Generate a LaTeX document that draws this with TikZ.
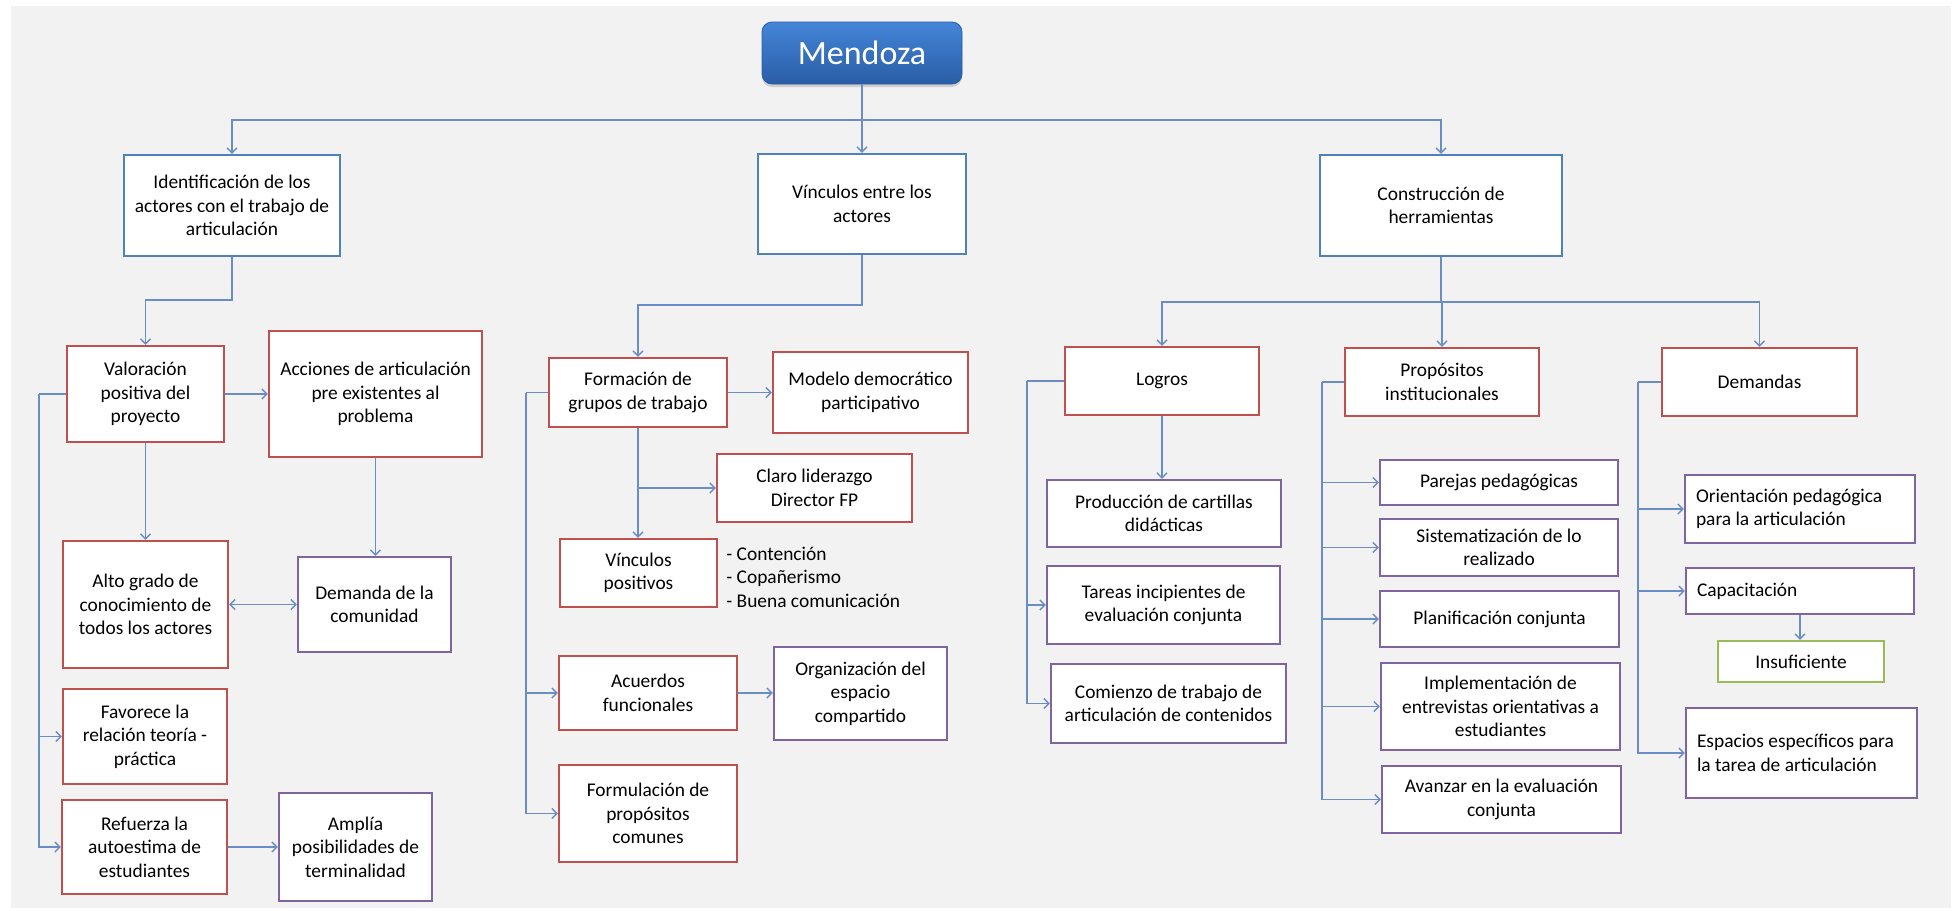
\documentclass[tikz,border=0pt]{standalone}
\usepackage{fontspec}
\setmainfont{Carlito}
\usetikzlibrary{arrows.meta,shadows}
\definecolor{bgc}{HTML}{F2F2F2}
\definecolor{cred}{HTML}{C0504D}
\definecolor{cpur}{HTML}{8064A2}
\definecolor{cblu}{HTML}{4F81BD}
\definecolor{cgrn}{HTML}{9BBB59}
\definecolor{cline}{HTML}{6A8DC6}
\definecolor{mtop}{HTML}{4585D8}
\definecolor{mbot}{HTML}{2A5DA6}
\newcommand\txtsz{\fontsize{9.7}{11.8}\selectfont}
\newcommand\bx[8][]{\pgfmathsetmacro\bw{(#6-#4)*0.5}\pgfmathsetmacro\bh{(#7-#5)*0.5}%
  \node[#3,minimum width=\bw pt,minimum height=\bh pt,#1] (#2) at ({(#4+#6)/2},{(#5+#7)/2}) {#8};}
\begin{document}
\begin{tikzpicture}[x=0.5pt,y=-0.5pt,
  box/.style={draw, fill=white, line width=1.1pt, inner sep=2pt, align=center, font=\txtsz},
  rbox/.style={box, draw=cred},
  pbox/.style={box, draw=cpur},
  bbox/.style={box, draw=cblu},
  gbox/.style={box, draw=cgrn},
  lbox/.style={pbox, align=flush left, inner xsep=5.5pt, text width=#1},
  arr/.style={draw=cline, line width=0.7pt, -{Straight Barb[length=2.5pt,width=5pt]}},
  darr/.style={draw=cline, line width=0.7pt, {Straight Barb[length=2.5pt,width=5pt]}-{Straight Barb[length=2.5pt,width=5pt]}},
  ln/.style={draw=cline, line width=0.7pt},
  title/.style={rounded corners=5pt, top color=mtop, bottom color=mbot, draw=mbot, line width=0.4pt,
     text=white, font=\fontsize{17}{20}\selectfont,
     drop shadow={shadow xshift=0pt, shadow yshift=-1.5pt, opacity=0.3}}
]
\useasboundingbox (0,0) rectangle (1953,910);
\fill[bgc] (11,6) rectangle (1951,908);

% title
\bx{mendoza}{title}{762}{22}{962}{84}{Mendoza}

% level 1
\bx{ident}{bbox}{124}{155}{340}{256}{Identificación de los\\actores con el trabajo de\\articulación}
\bx{vinc}{bbox}{758}{154}{966}{254}{Vínculos entre los\\actores}
\bx{const}{bbox}{1320}{155}{1562}{256}{Construcción de\\herramientas}

% column 1
\bx{valor}{rbox}{67}{346}{224}{442}{Valoración\\positiva del\\proyecto}
\bx{acc}{rbox}{269}{331}{482}{457}{Acciones de articulación\\pre existentes al\\problema}
\bx{alto}{rbox}{63}{541}{228}{668}{Alto grado de\\conocimiento de\\todos los actores}
\bx{dem}{pbox}{298}{557}{451}{652}{Demanda de la\\comunidad}
\bx{fav}{rbox}{63}{689}{227}{784}{Favorece la\\relación teoría -\\práctica}
\bx{ref}{rbox}{62}{800}{227}{894}{Refuerza la\\autoestima de\\estudiantes}
\bx{ampl}{pbox}{279}{793}{432}{901}{Amplía\\posibilidades de\\terminalidad}

% column 2
\bx{form}{rbox}{549}{358}{727}{427}{Formación de\\grupos de trabajo}
\bx{mod}{rbox}{773}{352}{968}{433}{Modelo democrático\\participativo}
\bx{claro}{rbox}{717}{454}{912}{522}{Claro liderazgo\\Director FP}
\bx{vpos}{rbox}{560}{539}{717}{607}{Vínculos\\positivos}
\node[anchor=west, align=left, inner sep=0pt, font=\txtsz] (vlist) at (726,577)
  {- Contención\\- Copañerismo\\- Buena comunicación};
\bx{acu}{rbox}{559}{656}{737}{730}{Acuerdos\\funcionales}
\bx{org}{pbox}{774}{647}{947}{740}{Organización del\\espacio\\compartido}
\bx{formu}{rbox}{559}{765}{737}{862}{Formulación de\\propósitos\\comunes}

% column 3
\bx{logros}{rbox}{1065}{347}{1259}{415}{Logros}
\bx{prod}{pbox}{1047}{480}{1281}{547}{Producción de cartillas\\didácticas}
\bx{tareas}{pbox}{1047}{566}{1280}{644}{Tareas incipientes de\\evaluación conjunta}
\bx{com}{pbox}{1051}{664}{1286}{743}{Comienzo de trabajo de\\articulación de contenidos}

\bx{prop}{rbox}{1345}{348}{1539}{416}{Propósitos\\institucionales}
\bx{parejas}{pbox}{1380}{460}{1618}{505}{Parejas pedagógicas}
\bx{sist}{pbox}{1380}{519}{1618}{576}{Sistematización de lo\\realizado}
\bx{plan}{pbox}{1380}{591}{1619}{647}{Planificación conjunta}
\bx{impl}{pbox}{1381}{663}{1620}{750}{Implementación de\\entrevistas orientativas a\\estudiantes}
\bx{avan}{pbox}{1382}{766}{1621}{833}{Avanzar en la evaluación\\conjunta}

\bx{demandas}{rbox}{1662}{348}{1857}{416}{Demandas}
\bx[lbox=104pt]{orient}{pbox}{1685}{475}{1915}{543}{Orientación pedagógica\\para la articulación}
\bx[lbox=103pt]{capac}{pbox}{1686}{568}{1914}{614}{Capacitación}
\bx{insuf}{gbox}{1718}{641}{1884}{682}{Insuficiente}
\bx[lbox=104.5pt]{espac}{pbox}{1686}{708}{1917}{798}{Espacios específicos para\\la tarea de articulación}

% connectors: top
\coordinate (b0) at (862,120);
\draw[arr] (mendoza.south) -- (vinc.north);
\draw[arr] (b0) -| (ident.north);
\draw[arr] (b0) -| (const.north);

% column 1
\coordinate (j1) at (232,300);
\draw[arr] (ident.south) -- (j1) -| (valor.north);
\draw[arr] (valor.east) -- (valor.east -| acc.west);
\draw[arr] (valor.south) -- (valor.south |- alto.north);
\draw[arr] (acc.south) -- (acc.south |- dem.north);
\draw[darr] (alto.east) -- (alto.east -| dem.west);
\coordinate (c1) at (39,394);
\draw[ln] (valor.west) -- (c1);
\draw[arr] (c1) |- (fav.west);
\draw[arr] (c1) |- (ref.west);
\draw[arr] (ref.east) -- (ref.east -| ampl.west);

% column 2
\coordinate (j2) at (862,305);
\draw[arr] (vinc.south) -- (j2) -| (form.north);
\draw[arr] (form.east) -- (form.east -| mod.west);
\draw[arr] (form.south) -- (form.south |- vpos.north);
\coordinate (j3) at (638,488);
\draw[arr] (j3) -- (j3 -| claro.west);
\coordinate (c2) at (526,392.5);
\draw[ln] (form.west) -- (c2);
\draw[arr] (c2) |- (acu.west);
\draw[arr] (c2) |- (formu.west);
\draw[arr] (acu.east) -- (acu.east -| org.west);

% column 3
\coordinate (j4) at (1441,302);
\draw[ln] (const.south) -- (j4);
\draw[arr] (j4) -| (logros.north);
\draw[arr] (j4) -| (demandas.north);
\draw[arr] (j4) -- (j4 -| prop.north) -- (prop.north);
\draw[arr] (logros.south) -- (logros.south |- prod.north);
\coordinate (c3) at (1027,381);
\draw[ln] (logros.west) -- (c3);
\draw[arr] (c3) |- (tareas.west);
\draw[arr] (c3) |- (com.west);
\coordinate (c4) at (1322,382);
\draw[ln] (prop.west) -- (c4);
\draw[arr] (c4) |- (parejas.west);
\draw[arr] (c4) |- (sist.west);
\draw[arr] (c4) |- (plan.west);
\draw[arr] (c4) |- (impl.west);
\draw[arr] (c4) |- (avan.west);
\coordinate (c5) at (1638,382);
\draw[ln] (demandas.west) -- (c5);
\draw[arr] (c5) |- (orient.west);
\draw[arr] (c5) |- (capac.west);
\draw[arr] (c5) |- (espac.west);
\draw[arr] (capac.south) -- (capac.south |- insuf.north);
\end{tikzpicture}
\end{document}
